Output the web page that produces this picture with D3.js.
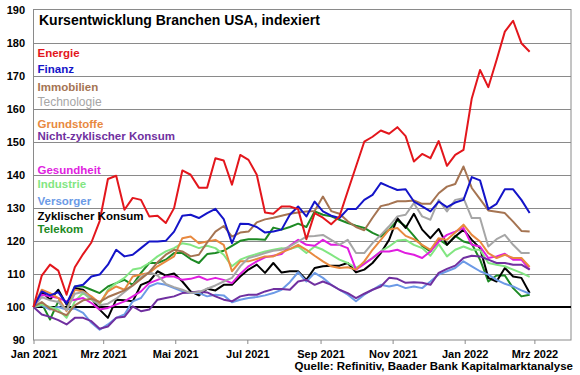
<!DOCTYPE html>
<html>
<head>
<meta charset="utf-8">
<script src="https://cdnjs.cloudflare.com/ajax/libs/d3/7.8.5/d3.min.js"></script>
<style>
body { margin: 0; background: #fff; }
svg { display: block; font-family: "Liberation Sans", Arial, sans-serif; }
</style>
</head>
<body>
<svg width="580" height="375"></svg>
<script>

// weekly closes, indexed to 100 at 1 Jan 2021
var energie = [100, 109.5, 112.8, 111, 103.7, 112, 116, 119.5, 126, 138.7,
    139.7, 129.4, 133, 132.4, 127.4, 127.6, 125.4, 129.9, 141.3, 140,
    136.1, 136.1, 145, 144.3, 137, 146, 144.5, 140, 128.6, 128.2,
    130.4, 130.4, 129.6, 120.5, 128.4, 127, 125, 127.4, 135, 142.5,
    150, 151.5, 153.4, 152.4, 154.4, 151.7, 144, 146.3, 145, 150.2,
    142.7, 146, 147.5, 163.1, 171.7, 166.5, 174.7, 183.3, 186.6, 179.8,
    177.2];
var finanz = [100, 104.7, 103.5, 104.5, 101, 106.2, 106.7, 109.2, 109.8, 112.8,
    117.3, 115.3, 115.8, 117.8, 119.8, 119.8, 120, 122.8, 127.6, 127.9,
    126.9, 128.4, 129.7, 126.6, 119.3, 125.2, 125.1, 124.2, 122.5, 122.8,
    123.4, 127.9, 130.4, 127.4, 131.9, 128.9, 127.6, 126.9, 129.6, 129.6,
    132.4, 133.9, 137.5, 136.4, 135.4, 135.6, 131.9, 130.4, 128.9, 131.9,
    130.2, 131.6, 132.4, 139.3, 138.3, 129.6, 131.2, 135.6, 135.6, 132.4,
    128.4];
var immobilien = [100, 101.5, 99.5, 98.5, 97.5, 100.5, 102, 102.5, 101.5, 103,
    104, 105, 106.5, 108.5, 110.5, 113.5, 115.8, 117.3, 116.8, 115.3,
    115.8, 119.5, 122.8, 124.5, 121.3, 122.5, 122.8, 125.6, 126.5, 127,
    127.6, 128.2, 128.6, 128.9, 129, 133.4, 129, 128.2, 125.9, 124.2,
    123.2, 127, 130.5, 131.1, 132, 132, 132.2, 131.2, 131.2, 134.4,
    136.4, 137.2, 142.5, 136, 132.6, 129.2, 128.8, 128.4, 125.8, 123,
    122.8];
var technologie = [100, 103, 102, 101.5, 99, 104, 104.5, 102.5, 100.5, 101,
    102.5, 104.5, 106.5, 109, 110.5, 109.5, 107, 106, 105.2, 104.2,
    104.5, 105.5, 106.5, 107.7, 108.8, 112.3, 114.8, 115.5, 116.3, 117,
    117.3, 118.3, 119.8, 121.3, 121.5, 121.8, 120.3, 118.8, 120.3, 116.3,
    116.3, 119.3, 121.8, 124.4, 127.4, 127.9, 131.4, 127.4, 126.4, 132.4,
    128.9, 132.4, 132.9, 126.9, 126.9, 118.3, 120.5, 121.8, 118.8, 116.3,
    116.3];
var grundstoffe = [100, 105.2, 104.2, 102.7, 98.7, 105.2, 104.7, 103.2, 101.2, 104.7,
    106.2, 105.2, 109.2, 109.8, 110.3, 112.3, 113.8, 115.3, 120.8, 121.3,
    119.3, 119.8, 120.3, 118.8, 110.8, 113.8, 113.8, 114.5, 115.3, 115.3,
    116.5, 117.5, 118.8, 117.3, 115.5, 113.8, 112.3, 111.8, 112, 111.3,
    113.8, 117.3, 120.3, 123.4, 123.9, 121.5, 120.5, 118.8, 117.3, 120.8,
    120.3, 122.5, 124.9, 121.8, 119.8, 116.3, 114.8, 115.8, 114.8, 114.8,
    112.1];
var nichtZyklisch = [100, 97.7, 97, 96, 94.7, 96.7, 96.7, 95.7, 93.4, 94.1,
    96.7, 97, 100.2, 98.7, 99.2, 102.2, 102.7, 103.2, 104.2, 104.4,
    104.7, 104.4, 103.2, 102.2, 101.7, 103.2, 103.7, 103.7, 104.7, 105.4,
    105.4, 105.2, 107.7, 108.2, 106.7, 107.7, 106.7, 105.2, 104.2, 102.7,
    104, 105.2, 106.2, 108.8, 108.5, 107.3, 107.5, 107.3, 106.7, 110.3,
    111.5, 112.5, 114.8, 115.5, 115.3, 114.3, 113.3, 113.3, 112.8, 112.8,
    111.3];
var gesundheit = [100, 103.7, 103.2, 102.7, 101.7, 102.2, 102.7, 101.2, 99.2, 99.7,
    100.7, 101.7, 103.2, 104.7, 107.2, 108.2, 109.2, 109.2, 108.2, 108.5,
    109.2, 108.2, 108.8, 108.2, 107.2, 110, 112.3, 113.8, 115, 115.5,
    116, 118.5, 120.3, 118.8, 118.5, 120.3, 118.8, 118.8, 117.8, 111.3,
    113, 114.8, 116.8, 116.8, 117.3, 116.3, 115.8, 114.8, 116.8, 119.8,
    121.8, 122.8, 123.9, 118.8, 118.3, 114.8, 115.3, 116.1, 114.3, 114.3,
    111.3];
var industrie = [100, 100.7, 100, 99.2, 96.7, 101.7, 104.2, 102.2, 100.7, 105.2,
    107.2, 108.8, 111.3, 111.8, 113.3, 115.3, 116.8, 117.8, 119.3, 118.8,
    117.8, 118.5, 117.8, 115.8, 112.3, 114.3, 115.3, 116, 116.8, 117.3,
    117.8, 117.5, 118.3, 116.3, 118.3, 117.3, 115.8, 114.3, 113.3, 111.8,
    113.3, 114.8, 116.8, 118.3, 120.1, 120.3, 118.8, 117.8, 115.5, 119,
    115.3, 117.3, 118.3, 117.3, 117.3, 113.3, 112.8, 112.3, 111.3, 110.3,
    109.1];
var versorger = [100, 100.5, 99.2, 100, 99.2, 99.5, 98.2, 95.2, 93.1, 94.7,
    96.7, 97.7, 101.7, 102.7, 106.2, 107.2, 106.7, 105.7, 104.7, 104.2,
    104.2, 103.2, 103.7, 103.5, 101.4, 102.2, 102.7, 103, 103.5, 104.2,
    105.2, 107.5, 110.5, 107.7, 110.3, 108.8, 106.7, 105.2, 103.7, 101.7,
    103.7, 105.2, 106.7, 106.2, 106.7, 105.7, 106.2, 105.7, 107.7, 109.8,
    110.8, 111.8, 113.8, 112.3, 110.8, 109.8, 108.2, 107, 106.2, 105,
    104];
var zyklisch = [100, 104.7, 102.2, 105.2, 100.7, 105.7, 105.2, 102.7, 99.2, 96.7,
    102.2, 102, 101.7, 106.7, 107.7, 110.8, 109.5, 110.1, 107.7, 104.7,
    103.5, 105.5, 105, 106.7, 106.7, 109.2, 111.3, 112.8, 110.3, 113.3,
    110.4, 110.8, 110.8, 108.2, 111.8, 112.3, 112.5, 112.5, 113.3, 110.5,
    111.3, 113.3, 116.3, 120.3, 126.9, 123.9, 128.2, 123.4, 120.8, 123.6,
    118.8, 121.3, 123.4, 120.3, 117.8, 108.8, 107.7, 111.8, 109.2, 108.8,
    104.2];
var telekom = [100, 101, 96.2, 101.7, 99, 106.2, 106.2, 105.2, 104.2, 106.2,
    107.2, 108.2, 106.7, 110.3, 113.3, 113.3, 114.3, 116.3, 116.3, 114.5,
    113.3, 116, 116.3, 117, 118.5, 120, 120.5, 120.5, 120.3, 124,
    123.4, 124.2, 125.2, 124.2, 128.9, 127.9, 127.4, 126.4, 125.4, 124.6,
    123.9, 122.4, 121.3, 123.4, 126.2, 124.4, 121.5, 118.5, 116.8, 120.5,
    118.8, 121.5, 119.8, 119.1, 114.3, 107.7, 109.5, 109.5, 105.7, 103.2,
    103.7];

var names = ["Energie", "Finanz", "Immobilien", "Technologie", "Grundstoffe",
    "Nicht-zyklischer Konsum", "Gesundheit", "Industrie", "Versorger",
    "Zyklischer Konsum", "Telekom"];
var yTicks = [90, 100, 110, 120, 130, 140, 150, 160, 170, 180, 190];
var tickLabels = ["Jan 2021", "Mrz 2021", "Mai 2021", "Jul 2021", "Sep 2021",
    "Nov 2021", "Jan 2022", "Mrz 2022"];

var colors = ["#e3161c", "#1414c8", "#a57452", "#a6a6a6", "#e8893f", "#7030a0",
    "#e01ee0", "#82e682", "#6c9ae6", "#000000", "#1d8a24"];
var legendY = [56.5, 72.5, 91, 105.5, 128, 140, 173.5, 187.5, 205, 220, 232.5];

var weeks = d3.timeDay.range(new Date(2021, 0, 1), new Date(2022, 1, 26), 7);
var tickDates = [new Date(2021, 0, 1), new Date(2021, 2, 1), new Date(2021, 4, 1),
    new Date(2021, 6, 1), new Date(2021, 8, 1), new Date(2021, 10, 1),
    new Date(2022, 0, 1), new Date(2022, 2, 1)];

var series = [energie, finanz, immobilien, technologie, grundstoffe, nichtZyklisch,
    gesundheit, industrie, versorger, zyklisch, telekom].map(function(v, i) {
    return {name: names[i], color: colors[i], values: v};
});

var svg = d3.select("svg");

var plotLeft = 33.5, plotRight = 571, plotTop = 9.5, plotBottom = 340;

var x = d3.scaleTime()
    .domain([new Date(2021, 0, 1), new Date(2022, 3, 1)])
    .range([plotLeft, plotRight]);

var y = d3.scaleLinear()
    .domain([90, 190])
    .range([plotBottom, plotTop]);

// grid
svg.append("g")
    .selectAll("line")
    .data(yTicks.filter(function(d) { return d > 100 && d < 190; }))
    .enter()
    .append("line")
    .attr("x1", plotLeft)
    .attr("x2", plotRight)
    .attr("y1", function(d) { return Math.round(y(d)) + 0.5; })
    .attr("y2", function(d) { return Math.round(y(d)) + 0.5; })
    .style("stroke", "#8a8a8a")
    .style("stroke-width", 1);

svg.append("rect")
    .attr("x", plotLeft)
    .attr("y", plotTop)
    .attr("width", plotRight - plotLeft)
    .attr("height", plotBottom - plotTop)
    .style("fill", "none")
    .style("stroke", "#8a8a8a")
    .style("stroke-width", 1);

// x axis
var xAxis = svg.append("g")
    .attr("transform", "translate(0," + plotBottom + ")")
    .call(d3.axisBottom(x)
        .tickValues(tickDates)
        .tickFormat(function(d, i) { return tickLabels[i]; })
        .tickSize(4)
        .tickPadding(6));
xAxis.select(".domain").remove();
xAxis.selectAll("line").style("stroke", "#8a8a8a");
xAxis.selectAll("text")
    .style("font-family", "Liberation Sans, Arial, sans-serif")
    .style("font-size", "11px")
    .style("font-weight", "bold")
    .style("fill", "#000");

// y axis
var yAxis = svg.append("g")
    .attr("transform", "translate(" + plotLeft + ",0)")
    .call(d3.axisLeft(y)
        .tickValues(yTicks)
        .tickSize(0)
        .tickPadding(8.5));
yAxis.select(".domain").remove();
yAxis.selectAll("text")
    .style("font-family", "Liberation Sans, Arial, sans-serif")
    .style("font-size", "11px")
    .style("font-weight", "bold")
    .style("fill", "#000");

// index 100 line
svg.append("line")
    .attr("x1", plotLeft)
    .attr("x2", plotRight)
    .attr("y1", y(100))
    .attr("y2", y(100))
    .style("stroke", "#000")
    .style("stroke-width", 2);

var line = d3.line()
    .x(function(d, i) { return x(weeks[i]); })
    .y(function(d) { return y(d); });

svg.append("g")
    .selectAll("path")
    .data(series.slice().reverse())
    .enter()
    .append("path")
    .attr("d", function(d) { return line(d.values); })
    .style("fill", "none")
    .style("stroke", function(d) { return d.color; })
    .style("stroke-width", 2)
    .style("stroke-linejoin", "round");

// title
svg.append("text")
    .attr("x", 39)
    .attr("y", 25)
    .text("Kursentwicklung Branchen USA, indexiert")
    .style("font-size", "14px")
    .style("font-weight", "bold");

// legend
svg.append("g")
    .selectAll("text")
    .data(series)
    .enter()
    .append("text")
    .attr("x", 37.5)
    .attr("y", function(d, i) { return legendY[i]; })
    .text(function(d) { return d.name; })
    .style("fill", function(d) { return d.color; })
    .style("font-size", function(d) { return d.name === "Technologie" ? "12px" : "11.5px"; })
    .style("font-weight", function(d) { return d.name === "Technologie" ? "normal" : "bold"; });

svg.append("text")
    .attr("x", 573)
    .attr("y", 370)
    .attr("text-anchor", "end")
    .text("Quelle: Refinitiv, Baader Bank Kapitalmarktanalyse")
    .style("font-size", "11.5px")
    .style("font-weight", "bold");

</script>
</body>
</html>
